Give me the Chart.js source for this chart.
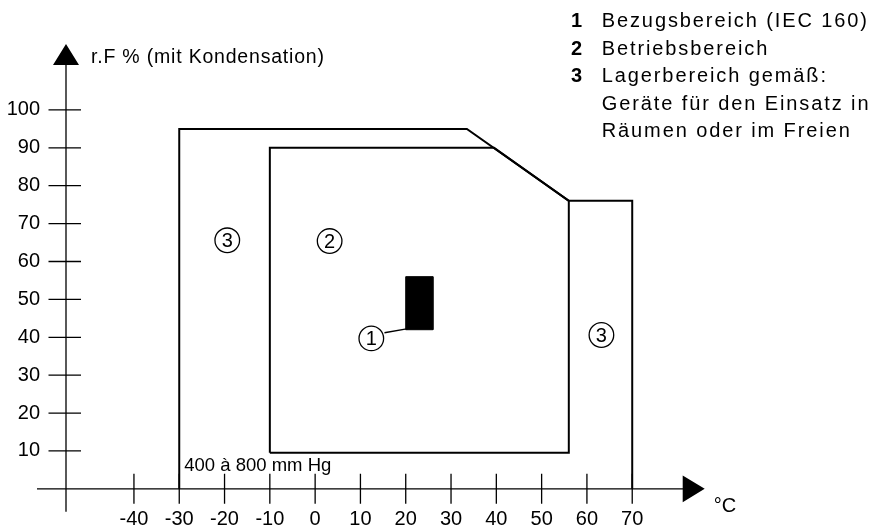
<!DOCTYPE html>
<html>
<head>
<meta charset="utf-8">
<script src="https://cdn.jsdelivr.net/npm/chart.js"></script>
<style>
  html, body { margin: 0; padding: 0; background: #fff; }
  #wrap { width: 881px; height: 526px; }
</style>
</head>
<body>
<div id="wrap"><canvas id="klima" width="881" height="526"></canvas></div>
<script>
// Bereiche: Temperatur in °C, relative Feuchte in %
const lagerT = [-30, -30, 33.5, 56, 70, 70];
const lagerF = [0, 95, 95, 76, 76, 0];
const betriebT = [-10, -10, 39.5, 56, 56, -10];
const betriebF = [9.5, 90, 90, 76, 9.5, 9.5];
const bezugT = [20, 20, 26, 26, 20];
const bezugF = [42, 56, 56, 42, 42];
const hinweisT = [15.3, 20.5];
const hinweisF = [41.2, 42.3];

const xTicks = [-40, -30, -20, -10, 0, 10, 20, 30, 40, 50, 60, 70];
const yTicks = [10, 20, 30, 40, 50, 60, 70, 80, 90, 100];

// Kreisnummern im Diagramm
const marken = [
  { nr: '3', t: -19.4, f: 65.6 },
  { nr: '2', t: 3.2, f: 65.4 },
  { nr: '1', t: 12.4, f: 39.7 },
  { nr: '3', t: 63.2, f: 40.6 }
];

const legende = [
  ['1', 'Bezugsbereich (IEC 160)'],
  ['2', 'Betriebsbereich'],
  ['3', 'Lagerbereich gemäß:'],
  ['', 'Geräte für den Einsatz in'],
  ['', 'Räumen oder im Freien']
];

const schrift = "'Liberation Sans', Arial, Helvetica, sans-serif";
Chart.defaults.font.family = schrift;
Chart.defaults.color = '#000';

function punkte(xs, ys) {
  return xs.map((v, i) => ({ x: v, y: ys[i] }));
}

function linie(xs, ys, breite) {
  return {
    data: punkte(xs, ys),
    showLine: true,
    borderColor: '#000',
    borderWidth: breite,
    borderJoinStyle: 'miter',
    pointRadius: 0,
    fill: false,
    tension: 0
  };
}

const bezug = linie(bezugT, bezugF, 1);
bezug.backgroundColor = '#000';
bezug.fill = 'shape';

// Achsen ohne Randabstand, damit die Zeichenfläche fest bleibt
function ohnePadding(s) {
  s.paddingTop = 0;
  s.paddingBottom = 0;
  s.paddingLeft = 0;
  s.paddingRight = 0;
}

const achsen = {
  id: 'achsen',
  afterDatasetsDraw(chart) {
    const { ctx, scales: { x, y } } = chart;
    const x0 = x.getPixelForValue(x.min);
    const y0 = y.getPixelForValue(0);
    const oben = y.getPixelForValue(y.max);
    const rechts = x.getPixelForValue(x.max);

    ctx.save();
    ctx.strokeStyle = '#000';
    ctx.fillStyle = '#000';
    ctx.lineWidth = 1.3;

    // Achslinien
    ctx.beginPath();
    ctx.moveTo(x0, y0 + 23);
    ctx.lineTo(x0, oben + 20);
    ctx.moveTo(x0 - 29, y0);
    ctx.lineTo(rechts - 20, y0);
    // Teilstriche
    yTicks.forEach(v => {
      const py = y.getPixelForValue(v);
      ctx.moveTo(x0 - 17.5, py);
      ctx.lineTo(x0 + 15, py);
    });
    xTicks.forEach(v => {
      const px = x.getPixelForValue(v);
      ctx.moveTo(px, y0 - 15);
      ctx.lineTo(px, y0 + 15);
    });
    ctx.stroke();

    // Pfeilspitzen
    ctx.beginPath();
    ctx.moveTo(x0, oben);
    ctx.lineTo(x0 - 13, oben + 21);
    ctx.lineTo(x0 + 13, oben + 21);
    ctx.closePath();
    ctx.moveTo(rechts, y0);
    ctx.lineTo(rechts - 22, y0 - 13.3);
    ctx.lineTo(rechts - 22, y0 + 13.3);
    ctx.closePath();
    ctx.fill();

    // Achsentitel
    ctx.textBaseline = 'alphabetic';
    ctx.textAlign = 'left';
    ctx.font = '19.5px ' + schrift;
    ctx.letterSpacing = '0.8px';
    ctx.fillText('r.F % (mit Kondensation)', x0 + 25, oben + 19);
    ctx.letterSpacing = '0px';
    ctx.font = '20px ' + schrift;
    ctx.fillText('°C', rechts + 9, y0 + 23);

    ctx.font = '18.5px ' + schrift;
    ctx.fillText('400 à 800 mm Hg', x.getPixelForValue(-28.9), y.getPixelForValue(4.7));

    // Kreisnummern
    ctx.lineWidth = 1.3;
    ctx.textAlign = 'center';
    ctx.textBaseline = 'middle';
    ctx.font = '20px ' + schrift;
    marken.forEach(m => {
      const px = x.getPixelForValue(m.t);
      const py = y.getPixelForValue(m.f);
      ctx.beginPath();
      ctx.arc(px, py, 12.3, 0, Math.PI * 2);
      ctx.stroke();
      ctx.fillText(m.nr, px, py + 1);
    });

    // Legende oben rechts
    ctx.textAlign = 'left';
    ctx.textBaseline = 'alphabetic';
    legende.forEach((zeile, i) => {
      const by = 27.3 + i * 27.5;
      if (zeile[0]) {
        ctx.letterSpacing = '0px';
        ctx.font = 'bold 20px ' + schrift;
        ctx.fillText(zeile[0], 571, by);
      }
      ctx.font = '20px ' + schrift;
      ctx.letterSpacing = '1.9px';
      ctx.fillText(zeile[1], 601.7, by);
    });
    ctx.letterSpacing = '0px';
    ctx.restore();
  }
};

new Chart(document.getElementById('klima'), {
  type: 'scatter',
  data: {
    datasets: [
      linie(lagerT, lagerF, 2),
      linie(betriebT, betriebF, 2),
      bezug,
      linie(hinweisT, hinweisF, 1.3)
    ]
  },
  options: {
    responsive: false,
    animation: false,
    layout: { padding: { top: 44, right: 176.3, left: 0, bottom: 0 } },
    plugins: { legend: { display: false }, tooltip: { enabled: false } },
    scales: {
      x: {
        type: 'linear',
        min: -55,
        max: 86,
        grid: { display: false, drawTicks: false },
        border: { display: false },
        afterBuildTicks: s => { s.ticks = xTicks.map(v => ({ value: v })); },
        afterFit: s => { s.height = 18.2; ohnePadding(s); },
        ticks: { font: { size: 20 }, padding: 0, maxRotation: 0, autoSkip: false }
      },
      y: {
        type: 'linear',
        min: -5,
        max: 117.4,
        grid: { display: false, drawTicks: false },
        border: { display: false },
        afterBuildTicks: s => { s.ticks = yTicks.map(v => ({ value: v })); },
        afterFit: s => { s.width = 66; ohnePadding(s); },
        ticks: { font: { size: 20 }, padding: 26, autoSkip: false }
      }
    }
  },
  plugins: [achsen]
});
</script>
</body>
</html>
